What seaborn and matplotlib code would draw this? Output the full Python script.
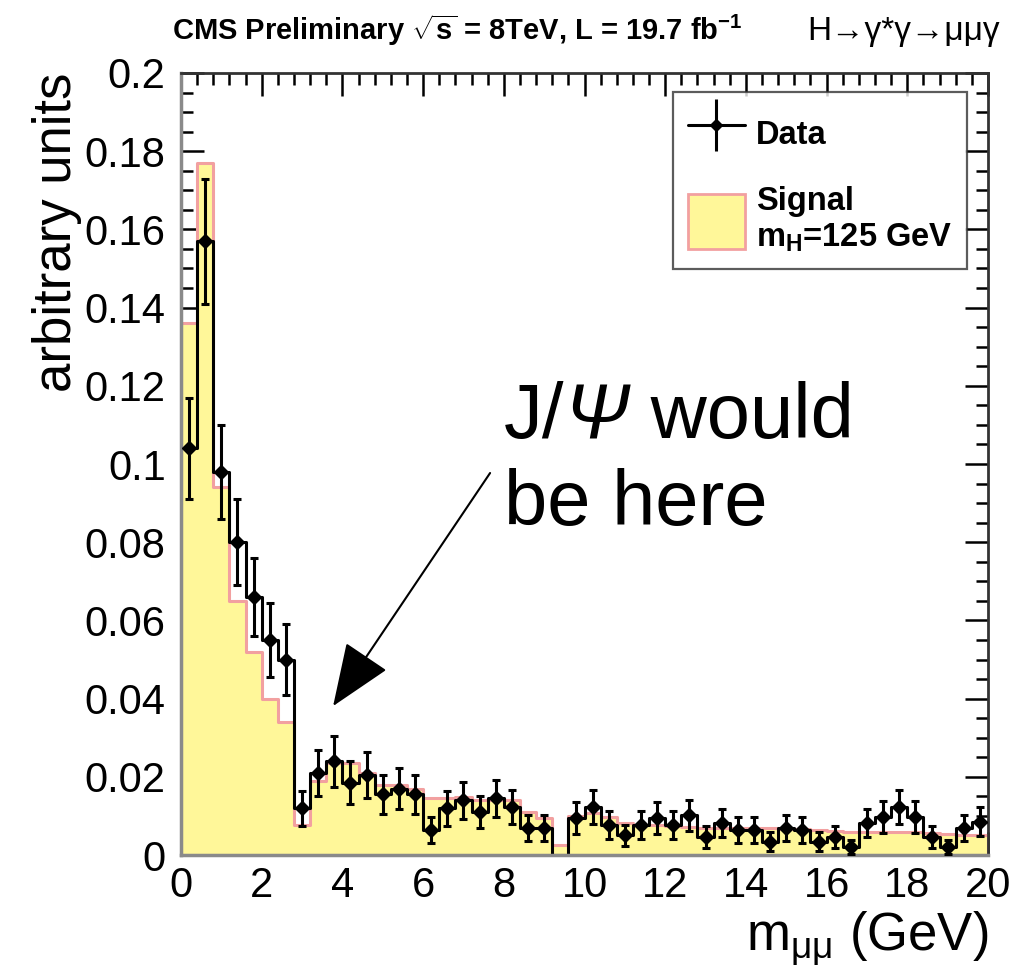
"""
plot.py - CMS H -> gamma* gamma -> mu mu gamma dimuon mass spectrum.
"""

import numpy as np
import pandas as pd
import matplotlib
matplotlib.use("Agg")
import matplotlib.pyplot as plt
from matplotlib.lines import Line2D
from matplotlib.patches import Patch
from matplotlib.ticker import MultipleLocator, FuncFormatter
import seaborn as sns

# 50 bins of 0.4 GeV from 0 to 20 GeV
bin_edges = [round(0.4 * i, 1) for i in range(51)]
bin_centers = [round(0.2 + 0.4 * i, 1) for i in range(50)]

data_values = [
    0.104, 0.157, 0.098, 0.080, 0.066, 0.055, 0.050, 0.012, 0.021, 0.024,
    0.0185, 0.0205, 0.0155, 0.017, 0.0155, 0.0065, 0.012, 0.014, 0.011, 0.0145,
    0.0123, 0.007, 0.007, 0.0, 0.0095, 0.0123, 0.0077, 0.005, 0.0077, 0.0095,
    0.0077, 0.0102, 0.0046, 0.0082, 0.0064, 0.0064, 0.0034, 0.0069, 0.0064, 0.0034,
    0.0046, 0.002, 0.0082, 0.0097, 0.0123, 0.0097, 0.0046, 0.002, 0.0069, 0.0085,
]
data_errors = [
    0.013, 0.016, 0.012, 0.011, 0.010, 0.0095, 0.009, 0.0045, 0.0058, 0.0065,
    0.0055, 0.0058, 0.005, 0.0052, 0.005, 0.0033, 0.0045, 0.0048, 0.0042, 0.0048,
    0.0044, 0.0033, 0.0033, 0.0, 0.004, 0.0044, 0.0035, 0.0028, 0.0035, 0.004,
    0.0035, 0.004, 0.0028, 0.0037, 0.0033, 0.0033, 0.0024, 0.0033, 0.0033, 0.0024,
    0.0028, 0.0018, 0.0037, 0.004, 0.0044, 0.004, 0.0028, 0.0018, 0.0033, 0.0037,
]
signal_values = [
    0.136, 0.177, 0.094, 0.065, 0.052, 0.040, 0.034, 0.0077, 0.019, 0.0235,
    0.0235, 0.021, 0.018, 0.018, 0.017, 0.0145, 0.0145, 0.0148, 0.014, 0.014,
    0.014, 0.011, 0.0095, 0.0026, 0.010, 0.0107, 0.0098, 0.0082, 0.0078, 0.0077,
    0.0075, 0.0072, 0.007, 0.007, 0.007, 0.0068, 0.0068, 0.0066, 0.0066, 0.0065,
    0.0062, 0.006, 0.006, 0.0058, 0.0058, 0.0058, 0.0056, 0.0055, 0.0052, 0.005,
]

df = pd.DataFrame({
    "mass": bin_centers,
    "data": data_values,
    "err": data_errors,
    "signal": signal_values,
})

sns.set_style("ticks")
plt.rcParams["font.family"] = ["Liberation Sans", "DejaVu Sans"]
plt.rcParams["mathtext.fontset"] = "custom"
plt.rcParams["mathtext.rm"] = "Liberation Sans"
plt.rcParams["mathtext.it"] = "Liberation Sans:italic"
plt.rcParams["mathtext.bf"] = "Liberation Sans:bold"
for key in ["text.color", "axes.labelcolor", "xtick.color", "ytick.color"]:
    plt.rcParams[key] = "black"

YELLOW = "#fff799"
PINK = "#f2a0a0"

fig = plt.figure(figsize=(10.26, 9.68), dpi=100)
ax = fig.add_subplot(111)
fig.subplots_adjust(left=0.1764, right=0.963, bottom=0.1167, top=0.9246)

# signal histogram (filled)
sns.histplot(data=df, x="mass", weights="signal", bins=bin_edges,
             element="step", fill=True, color=YELLOW, edgecolor=PINK,
             linewidth=2.2, alpha=1, ax=ax)

# data histogram outline
sns.histplot(data=df, x="mass", weights="data", bins=bin_edges,
             element="step", fill=False, color="black", linewidth=2.2, ax=ax)

# data points with error bars
nonzero = df[df["data"] > 0]
ax.errorbar(nonzero["mass"], nonzero["data"], yerr=nonzero["err"],
            fmt="D", color="black", ms=7, elinewidth=2.2, capsize=3,
            capthick=2.2, zorder=5)

ax.set_xlim(0, 20)
ax.set_ylim(0, 0.2)

ax.xaxis.set_major_locator(MultipleLocator(2))
ax.xaxis.set_minor_locator(MultipleLocator(0.4))
ax.yaxis.set_major_locator(MultipleLocator(0.02))
ax.yaxis.set_minor_locator(MultipleLocator(0.005))
ax.yaxis.set_major_formatter(FuncFormatter(lambda v, _: f"{v:g}"))
ax.xaxis.set_major_formatter(FuncFormatter(lambda v, _: f"{v:g}"))

ax.tick_params(which="both", direction="in", top=True, right=True,
               color="black", width=1.8)
ax.tick_params(which="major", length=16.5, labelsize=30)
ax.tick_params(axis="y", which="major", pad=11)
ax.tick_params(axis="x", which="major", pad=8)
ax.tick_params(which="minor", length=8.6)

for side in ["left", "bottom"]:
    ax.spines[side].set_color("#8a8a8a")
    ax.spines[side].set_linewidth(2.5)
for side in ["top", "right"]:
    ax.spines[side].set_color("#333333")
    ax.spines[side].set_linewidth(2)
    ax.spines[side].set_visible(True)

ax.set_xlabel(r"m$_{\mathrm{\mu\mu}}$ (GeV)", fontsize=38, loc="right",
              labelpad=2)
ax.set_ylabel("arbitrary units", fontsize=38, loc="top", labelpad=2)

# legend
data_handle = (
    Line2D([], [], color="black", lw=2.2),
    Line2D([], [], ls="", marker="|", ms=38, mew=2.2, color="black"),
    Line2D([], [], ls="", marker="D", ms=6, color="black"),
)
signal_handle = Patch(facecolor=YELLOW, edgecolor=PINK, linewidth=2)
leg = ax.legend([data_handle, signal_handle],
                ["Data", "Signal\nm$_\\mathbf{H}$=125 GeV"],
                loc="upper right", bbox_to_anchor=(0.974, 0.976),
                prop={"weight": "bold", "size": 23.5}, frameon=True,
                fancybox=False, shadow=False, borderpad=0.45,
                handlelength=1.75, handleheight=2.2, handletextpad=0.35,
                labelspacing=0.75, borderaxespad=0)
leg.get_frame().set_edgecolor("#333333")
leg.get_frame().set_linewidth(1.6)

# annotation: "J/Psi would be here" with an italic Psi
t1 = ax.text(8.0, 0.1066, "J/", fontsize=56, ha="left", va="baseline")
t2 = ax.annotate("Ψ", xy=(1, 0), xycoords=t1, fontsize=56,
                 fontstyle="italic", ha="left", va="bottom")
ax.annotate(" would", xy=(1, 0), xycoords=t2, fontsize=56,
            ha="left", va="bottom")
ax.text(8.0, 0.0844, "be here", fontsize=56, ha="left", va="baseline")
ax.annotate("", xy=(3.77, 0.0381), xytext=(7.66, 0.0977),
            arrowprops=dict(arrowstyle="-|>,head_length=2.0,head_width=0.8",
                            mutation_scale=20, color="black", lw=1.5,
                            shrinkA=0, shrinkB=0))

# header
fig.text(172 / 1026, 1 - 40 / 968,
         r"CMS Preliminary $\sqrt{\mathbf{s}}$ = 8TeV, L = 19.7 fb$^{\mathbf{-1}}$",
         fontsize=21, fontweight="bold", ha="left", va="baseline")
fig.text(1000 / 1026, 1 - 40 / 968, "H→γ*γ→μμγ",
         fontsize=24, ha="right", va="baseline")

fig.savefig("out.png", dpi=100)
plt.close(fig)
